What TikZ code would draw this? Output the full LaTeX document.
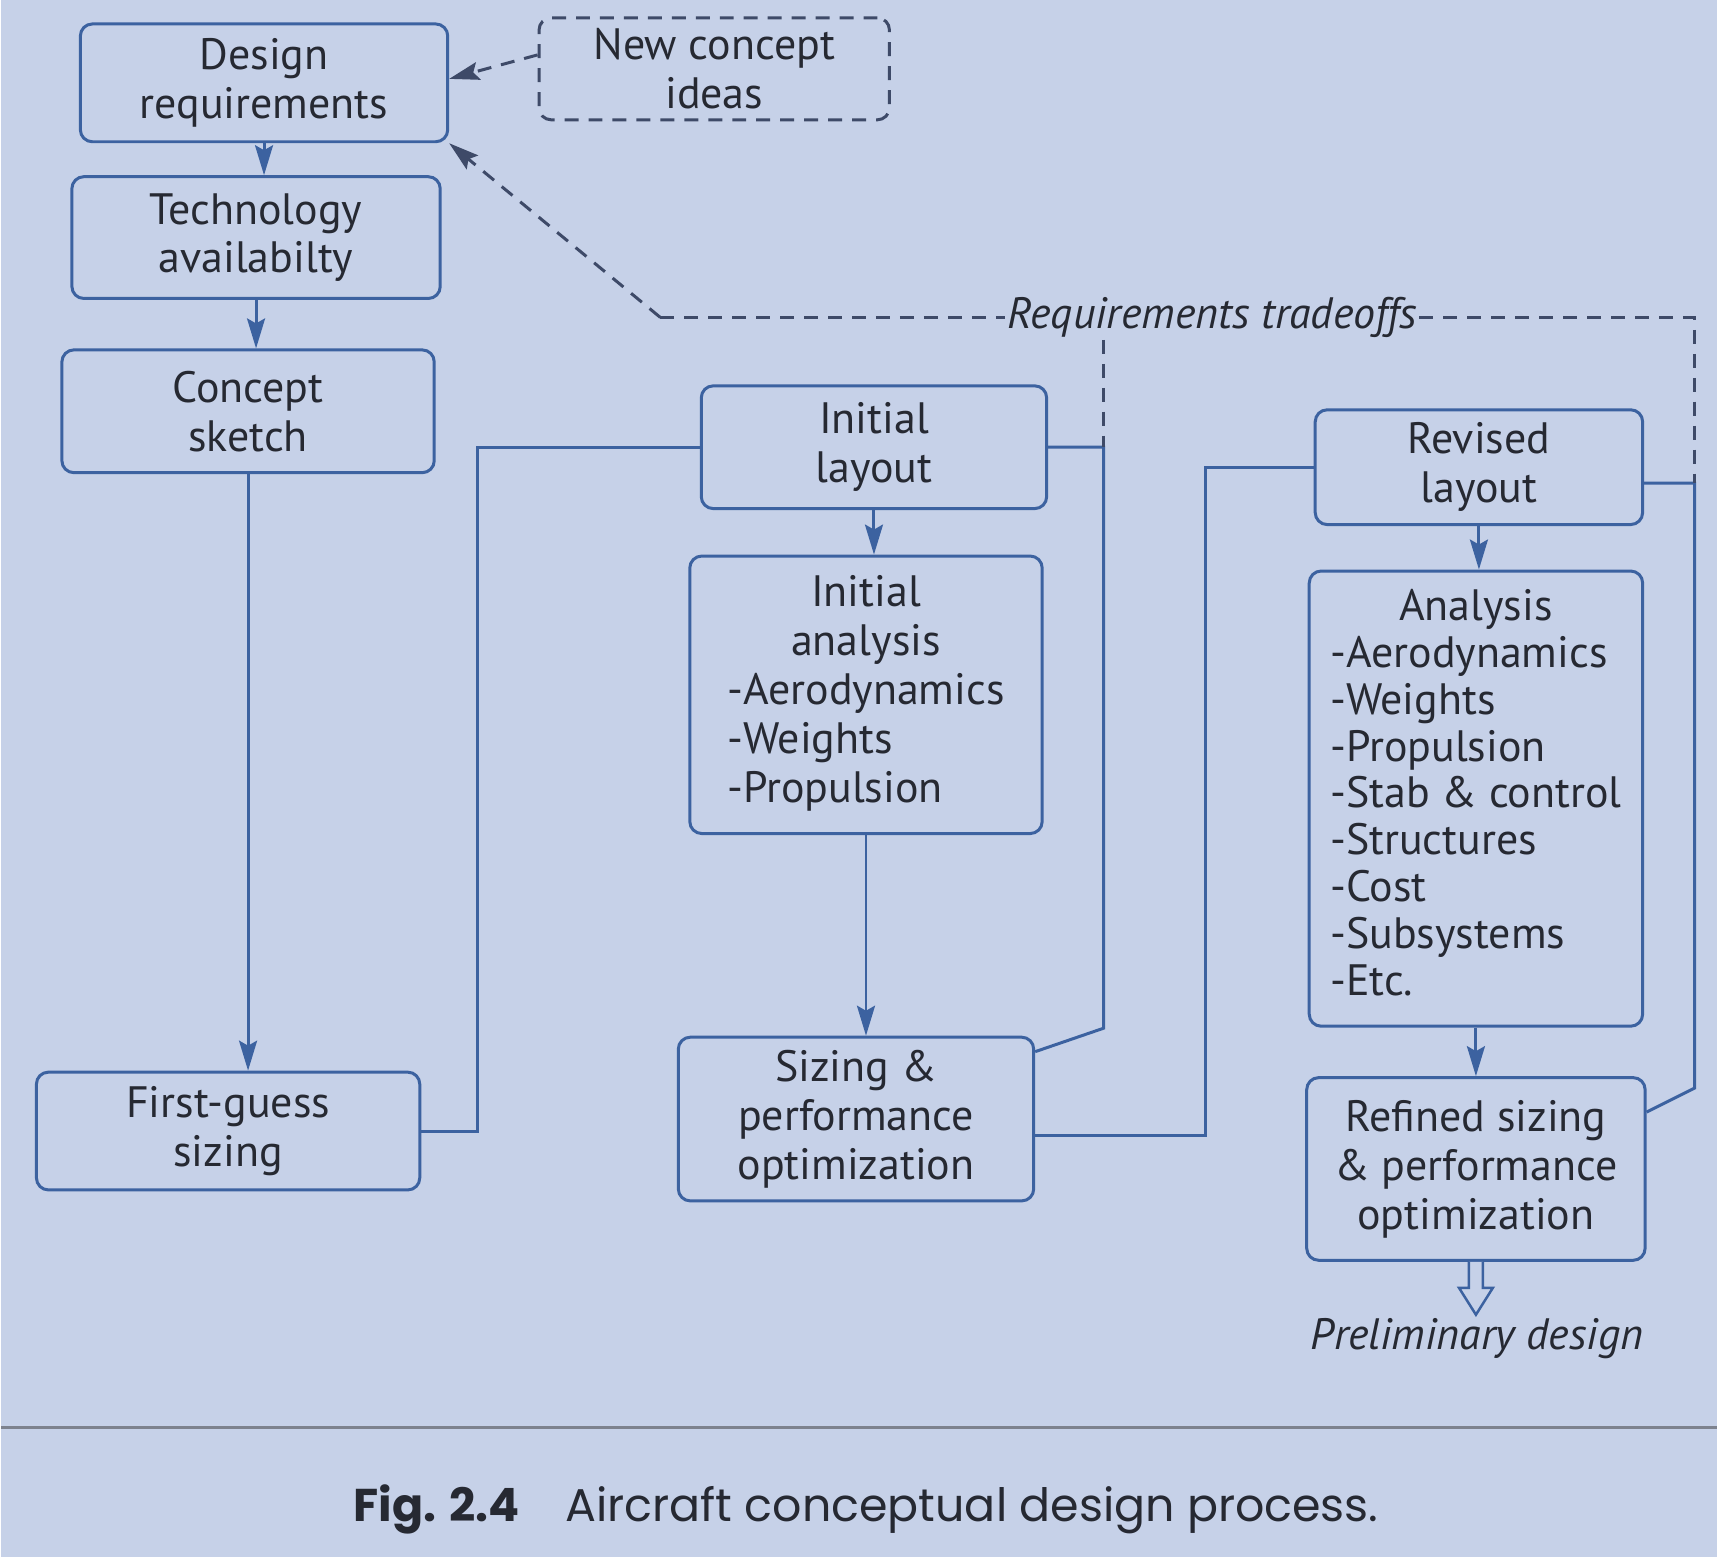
\documentclass[tikz,border=0pt]{standalone}
\usepackage{fontspec}
\setmainfont{PT Sans}
\newfontfamily\capfont{Poppins}
\usetikzlibrary{arrows.meta,calc}
\definecolor{bg}{RGB}{198,209,232}
\definecolor{boxblue}{RGB}{60,98,160}
\definecolor{ink}{RGB}{38,41,50}
\definecolor{dashink}{RGB}{62,74,104}
\definecolor{rulegray}{RGB}{125,130,142}
\begin{document}
\begin{tikzpicture}[x=1pt,y=-1pt,
  box/.style={draw=boxblue, line width=3pt, rounded corners=12pt, text=ink,
    align=center, inner sep=0pt, font=\fontsize{44}{49}\selectfont},
  dbox/.style={draw=dashink, line width=3pt, rounded corners=12pt, text=ink,
    align=center, inner sep=0pt, dash pattern=on 14pt off 10pt,
    font=\fontsize{44}{49}\selectfont},
  conn/.style={draw=boxblue, line width=3pt},
  tip/.style={-{Stealth[length=30pt,width=18pt,inset=5pt]}},
  dsh/.style={draw=dashink, line width=3pt, dash pattern=on 14pt off 10pt},
  lbl/.style={text=ink, inner sep=2pt, font=\fontsize{44}{49}\selectfont\itshape}
]
\path[fill=bg] (0,0) rectangle (1718,1560);

% boxes
\node[box, minimum width=368pt, minimum height=118pt] (dreq) at (263,83) {Design\\requirements};
\node[dbox, minimum width=351pt, minimum height=102pt] (newc) at (714,69) {New concept\\ideas};
\node[box, minimum width=369pt, minimum height=122pt] (tech) at (255,238) {Technology\\availabilty};
\node[box, minimum width=373pt, minimum height=123pt] (sketch) at (247,412) {Concept\\sketch};
\node[box, minimum width=384pt, minimum height=118pt] (first) at (227,1133) {First-guess\\sizing};
\node[box, minimum width=346pt, minimum height=123pt] (ilay) at (874,448) {Initial\\layout};
\node[box, minimum width=353pt, minimum height=278pt] (ian) at (866,696)
  {\begin{tabular}{@{}l@{}}\multicolumn{1}{@{}c@{}}{Initial}\\\multicolumn{1}{@{}c@{}}{analysis}\\-Aerodynamics\\-Weights\\-Propulsion\end{tabular}};
\node[box, minimum width=356pt, minimum height=164pt] (size) at (856,1121) {Sizing \&\\performance\\optimization};
\node[box, minimum width=328pt, minimum height=115pt] (rlay) at (1480,468) {Revised\\layout};
\node[box, minimum width=334pt, minimum height=456pt] (an) at (1477,800)
  {\fontsize{44}{47}\selectfont\begin{tabular}{@{}l@{}}\multicolumn{1}{@{}c@{}}{Analysis}\\-Aerodynamics\\-Weights\\-Propulsion\\-Stab \& control\\-Structures\\-Cost\\-Subsystems\\-Etc.\end{tabular}};
\node[box, minimum width=339pt, minimum height=183pt] (ref) at (1477,1171) {Refined sizing\\\& performance\\optimization};

\node[lbl] (rt) at (1213,318) {Requirements tradeoffs};
\node[lbl] (prelim) at (1478,1341) {Preliminary design};

% junction coordinates
\coordinate (j1) at (477,0);
\coordinate (j2) at (1104,1030);
\coordinate (j3) at (1206,0);
\coordinate (j4) at (1696,1090);
\coordinate (c1) at (660,318);
\coordinate (c2) at (1696,318);
\coordinate (k1) at (1104,448);
\coordinate (k2) at (1696,484);

% vertical arrows
\draw[conn,tip] (dreq.south) -- (dreq.south |- tech.north);
\draw[conn,tip] (tech.south) -- (tech.south |- sketch.north);
\draw[conn,tip] (sketch.south) -- (sketch.south |- first.north);
\draw[conn,tip] (ilay.south) -- (ilay.south |- ian.north);
\draw[conn,tip] (ian.south) -- (ian.south |- size.north);
\draw[conn,tip] (rlay.south) -- (rlay.south |- an.north);
\draw[conn,tip] (an.south) -- (an.south |- ref.north);

% feedback / forward connectors
\draw[conn] (first.east) -- (first.east -| j1) |- (ilay.west);
\draw[conn] (ilay.east) -- (k1) -- (j2) -- ([yshift=-16pt]size.north east);
\draw[conn] ([yshift=-16pt]size.east) -- ([yshift=-16pt]size.east -| j3) |- (rlay.west);
\draw[conn] ([yshift=-16pt]rlay.east) -- (k2) -- (j4) -- ([yshift=-36pt]ref.north east);

% dashed tradeoff lines
\draw[dsh] (c1) -- (rt.west);
\draw[dsh] (rt.east) -- (c2) -- (k2);
\draw[dsh] (rt.south -| k1) -- (k1);
\draw[dsh,tip] (c1) -- (dreq.south east);
\draw[dsh,tip] ([yshift=14pt]newc.west) -- ([yshift=4pt]dreq.east);

% hollow output arrow
\draw[boxblue, line width=2.5pt, fill=bg, line join=miter]
  ([shift={(-7,0)}]ref.south) -- ([shift={(-7,26)}]ref.south) -- ([shift={(-17,26)}]ref.south)
  -- ([shift={(0,53)}]ref.south) -- ([shift={(17,26)}]ref.south) -- ([shift={(7,26)}]ref.south)
  -- ([shift={(7,0)}]ref.south);

% rule and caption
\draw[rulegray, line width=3pt] (0,1430) -- (1718,1430);
\node[text=ink, font=\capfont\fontsize{46}{52}\selectfont] (cap) at (866,1512)
  {{\bfseries Fig. 2.4}\hspace{46pt}Aircraft conceptual design process.};
\end{tikzpicture}
\end{document}
